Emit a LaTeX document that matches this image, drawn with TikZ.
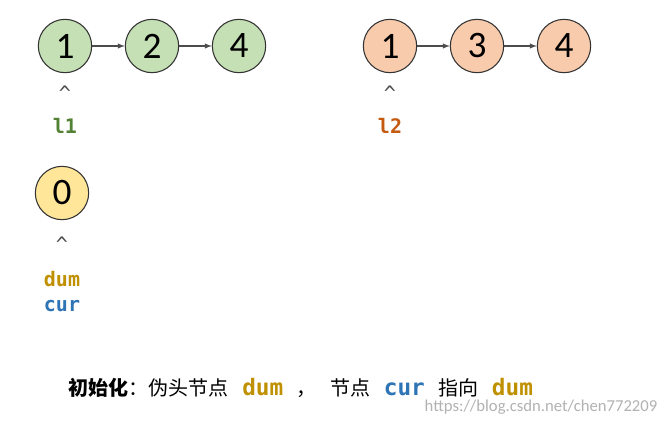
\documentclass[tikz,border=0pt]{standalone}
\usepackage{fontspec}
\setmainfont{Carlito}
\newfontfamily\cjk{Noto Sans CJK SC}
\newfontfamily\mono{DejaVu Sans Mono}
\definecolor{gfill}{HTML}{C5E0B4}
\definecolor{ofill}{HTML}{F8CBAD}
\definecolor{yfill}{HTML}{FFE699}
\definecolor{cl1}{HTML}{548235}
\definecolor{cl2}{HTML}{C55A11}
\definecolor{cdum}{HTML}{BF9000}
\definecolor{ccur}{HTML}{2E75B6}
\tikzset{
 nd/.style={circle,draw=black!80,line width=0.8pt,minimum size=40pt,inner sep=0pt,font=\fontsize{28}{28}\selectfont},
 lnk/.style={-latex,draw=black!70,line width=0.8pt},
 lbl/.style={font=\mono\bfseries\fontsize{15}{15}\selectfont},
 caret/.style={font=\fontsize{15}{15}\selectfont\mono,text=black!70}
}
\begin{document}
\begin{tikzpicture}[x=0.75pt,y=-0.75pt]
\useasboundingbox[fill=white] (0,0) rectangle (663,425);
\node[nd,fill=gfill] (a1) at (65,46) {1};
\node[nd,fill=gfill] (a2) at (152,46) {2};
\node[nd,fill=gfill] (a3) at (239,46) {4};
\draw[lnk] (a1) -- (a2); \draw[lnk] (a2) -- (a3);
\node[nd,fill=ofill] (b1) at (390,46) {1};
\node[nd,fill=ofill] (b2) at (477,46) {3};
\node[nd,fill=ofill] (b3) at (564,46) {4};
\draw[lnk] (b1) -- (b2); \draw[lnk] (b2) -- (b3);
\node[nd,fill=yfill] (d) at (62,193) {0};
\node[caret] (c1) at (65,93) {\^{}};
\node[caret] (c2) at (390,93) {\^{}};
\node[caret] (c3) at (62,244) {\^{}};
\node[lbl,text=cl1] (l1) at (65,126) {l1};
\node[lbl,text=cl2] (l2) at (390,126) {l2};
\node[lbl,text=cdum] (dum) at (62,279) {dum};
\node[lbl,text=ccur] (cur) at (62,306) {cur};
\node[anchor=west,font=\fontsize{15}{15}\selectfont] (cap) at (64,388) {{\cjk\bfseries 初始化}{\cjk ：伪头节点}\ \ \ {\mono\bfseries\fontsize{17}{17}\selectfont\color{cdum}dum}\ \ \ {\cjk ，}\ \ \ {\cjk 节点}\ \ \ {\mono\bfseries\fontsize{17}{17}\selectfont\color{ccur}cur}\ \ \ {\cjk 指向}\ \ \ {\mono\bfseries\fontsize{17}{17}\selectfont\color{cdum}dum}};
\node[anchor=west,text=black!30,font=\fontsize{12.5}{12.5}\selectfont] (wm) at (420,407) {https://blog.csdn.net/chen772209};
\end{tikzpicture}
\end{document}
